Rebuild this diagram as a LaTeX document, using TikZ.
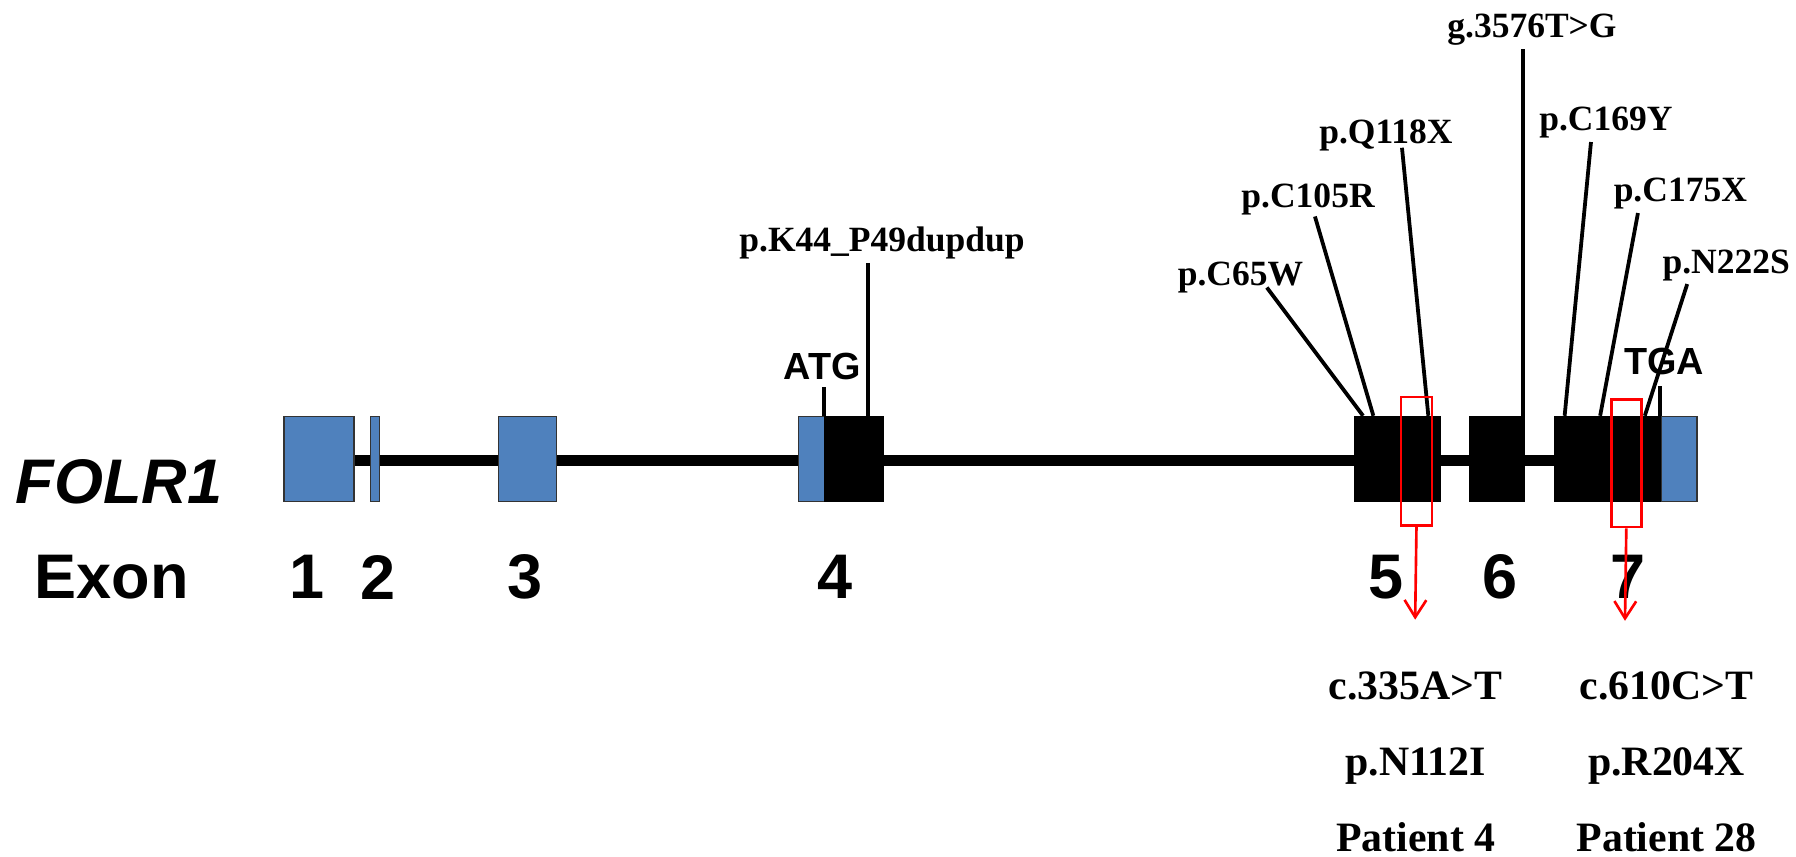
\documentclass[tikz,border=0pt]{standalone}
\usepackage{fontspec}
\setmainfont{Liberation Serif}
\newfontfamily\arialfont{Liberation Sans}
\usetikzlibrary{arrows.meta}
\definecolor{exblue}{RGB}{79,129,189}
\definecolor{mutred}{RGB}{255,0,0}
\begin{document}
\begin{tikzpicture}[x=1pt,y=-1pt,
  utr/.style={draw=black!80, line width=1pt, fill=exblue, inner sep=0pt, minimum height=74pt, anchor=north west},
  cds/.style={draw=black, fill=black, inner sep=0pt, minimum height=74pt, anchor=north west},
  mut/.style={font=\fontsize{31}{31}\selectfont\bfseries, inner sep=0pt},
  res/.style={font=\fontsize{36.5}{36.5}\selectfont\bfseries, inner sep=0pt, anchor=base},
  big/.style={font=\arialfont\fontsize{55}{55}\selectfont\bfseries, inner sep=0pt},
  codon/.style={font=\arialfont\fontsize{33}{33}\selectfont\bfseries, inner sep=0pt},
  stem/.style={line width=3.3pt, black},
  redbox/.style={draw=mutred, line width=2.3pt, inner sep=0pt, anchor=north west},
  redarrow/.style={draw=mutred, line width=2.3pt, -{Straight Barb[length=15pt,width=19pt,line width=2.3pt]}}
]
\useasboundingbox (0,0) rectangle (1568,748);

% backbone
\coordinate (bbL) at (308,402);
\coordinate (bbR) at (1357,402);
\draw[line width=9pt] (bbL) -- (bbR);

% exons
\node[utr, minimum width=61pt] (e1) at (247.5,363) {};
\node[utr, minimum width=8pt] (e2) at (323,363) {};
\node[utr, minimum width=50pt] (e3) at (435,363) {};
\node[utr, minimum width=23pt] (e4u) at (696.5,363) {};
\node[cds, minimum width=51pt] (e4) at (719.5,363) {};
\node[cds, minimum width=75pt] (e5) at (1182.5,363) {};
\node[cds, minimum width=48pt] (e6) at (1282.5,363) {};
\node[cds, minimum width=93pt] (e7) at (1357,363) {};
\node[utr, minimum width=31pt] (e7u) at (1450,363) {};

% gene labels
\node[big, font=\arialfont\fontsize{55}{55}\selectfont\bfseries\itshape] (gene) at (104,421) {FOLR1};
\node[big] (exon) at (97.5,504) {Exon};
\node[big] (n1) at (268,504) {1};
\node[big] (n2) at (330,504) {2};
\node[big] (n3) at (458,504) {3};
\node[big] (n4) at (729,504) {4};
\node[big] (n5) at (1210,504) {5};
\node[big] (n6) at (1310,504) {6};
\node[big] (n7) at (1421,504) {7};

% start / stop codons
\node[codon] (atg) at (718,320) {ATG};
\coordinate (atgb) at (719.5,338);
\coordinate (atge) at (719.5,363);
\draw[stem] (atgb) -- (atge);
\node[codon] (tga) at (1453,316) {TGA};
\coordinate (tgab) at (1449.5,337);
\coordinate (tgae) at (1449.5,363);
\draw[stem] (tgab) -- (tgae);

% mutation labels
\node[mut] (k44) at (770,212) {p.K44\_P49dupdup};
\coordinate (k44t) at (758,229.5);
\coordinate (k44e) at (758,363);
\draw[stem] (k44t) -- (k44e);

\node[mut] (c65) at (1083,242) {p.C65W};
\coordinate (c65t) at (1106,251);
\coordinate (c65e) at (1190,363);
\draw[stem] (c65t) -- (c65e);

\node[mut] (c105) at (1142,174) {p.C105R};
\coordinate (c105t) at (1148,189);
\coordinate (c105e) at (1199,363);
\draw[stem] (c105t) -- (c105e);

\node[mut] (q118) at (1210,118) {p.Q118X};
\coordinate (q118t) at (1224,129);
\coordinate (q118e) at (1247,363);
\draw[stem] (q118t) -- (q118e);

\node[mut] (g3576) at (1337.5,26) {g.3576T>G};
\coordinate (g3576t) at (1329.5,43);
\coordinate (g3576e) at (1329.5,363);
\draw[stem] (g3576t) -- (g3576e);

\node[mut] (c169) at (1402,107) {p.C169Y};
\coordinate (c169t) at (1389,124);
\coordinate (c169e) at (1366,363);
\draw[stem] (c169t) -- (c169e);

\node[mut] (c175) at (1467,169) {p.C175X};
\coordinate (c175t) at (1430,186);
\coordinate (c175e) at (1397,363);
\draw[stem] (c175t) -- (c175e);

\node[mut] (n222) at (1507,232) {p.N222S};
\coordinate (n222t) at (1473,248);
\coordinate (n222e) at (1436,363);
\draw[stem] (n222t) -- (n222e);

% highlighted mutations
\node[redbox, minimum width=27pt, minimum height=112pt] (r1) at (1222,345.5) {};
\node[redbox, minimum width=26pt, minimum height=111.5pt] (r2) at (1405.7,347.5) {};
\coordinate (a1) at (1235.5,541);
\coordinate (a2) at (1418.7,542);
\draw[redarrow] (r1.south) -- (a1);
\draw[redarrow] (r2.south) -- (a2);

\node[res] (p4c) at (1236,611) {c.335A>T};
\node[res] (p4p) at (1236,677) {p.N112I};
\node[res] (p4n) at (1236,743) {Patient 4};
\node[res] (p28c) at (1455,611) {c.610C>T};
\node[res] (p28p) at (1455,677) {p.R204X};
\node[res] (p28n) at (1455,743) {Patient 28};
\end{tikzpicture}
\end{document}
